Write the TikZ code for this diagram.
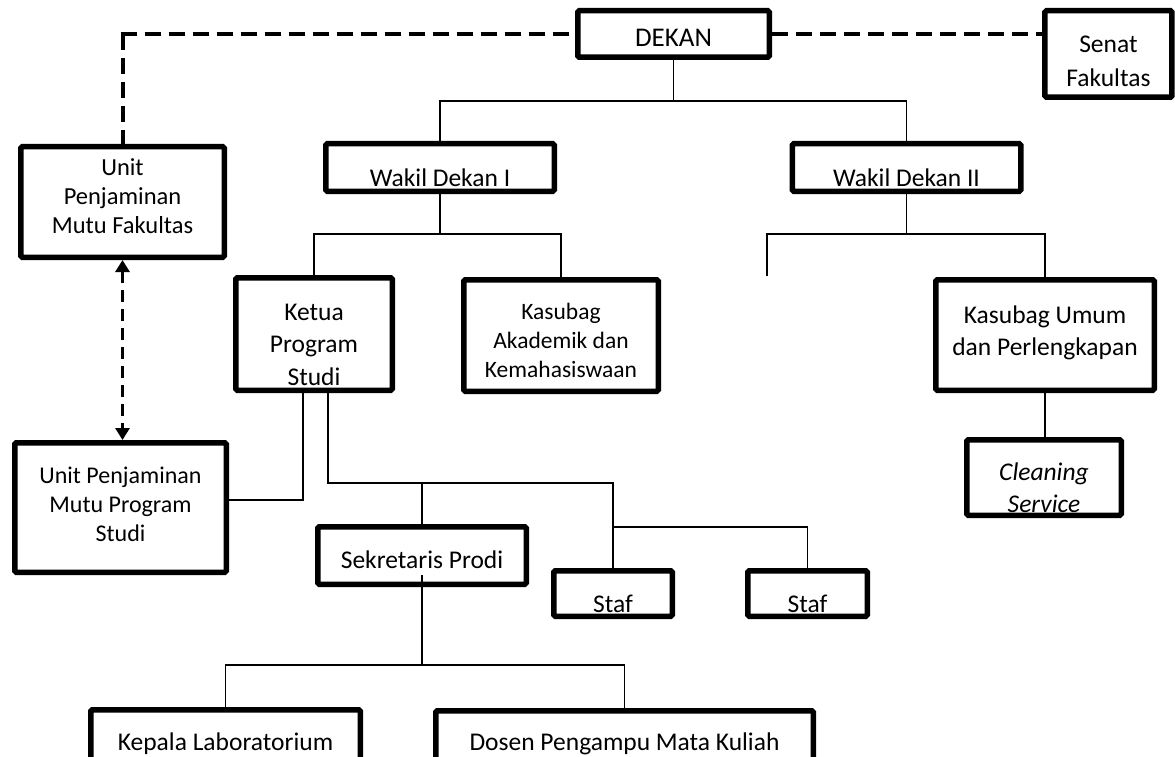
\documentclass[tikz,border=0pt]{standalone}
\usepackage{fontspec}
\setmainfont{Carlito}
\usetikzlibrary{arrows.meta,calc}
\begin{document}
\begin{tikzpicture}[x=1pt,y=-1pt,
  box/.style={draw, line width=5.5pt, rounded corners=1.5pt, inner sep=0pt},
  lbl/.style={align=center, inner sep=0pt, font=\fontsize{25.5}{31}\selectfont},
  one/.style={lbl, anchor=base},
  conn/.style={line width=1.4pt},
  dsh/.style={line width=4pt, dash pattern=on 16pt off 8pt},
  darrow/.style={line width=3.5pt, dash pattern=on 12pt off 7pt,
    {Triangle[length=12pt,width=14pt]}-{Triangle[length=12pt,width=14pt]}}]
\clip (0,0) rectangle (1175,757);
\fill[white] (0,0) rectangle (1175,757);

% boxes
\node[box, minimum width=191.5pt, minimum height=46.5pt] (dekan) at (673.5,34) {};
\node[box, minimum width=127pt, minimum height=86.5pt] (senat) at (1108.4,54) {};
\node[box, minimum width=228.5pt, minimum height=47.5pt] (wd1) at (440,167.5) {};
\node[box, minimum width=228.5pt, minimum height=47.5pt] (wd2) at (906.5,167.5) {};
\node[box, minimum width=203.5pt, minimum height=110.5pt] (upmf) at (122.5,202) {};
\node[box, minimum width=156.5pt, minimum height=112.5pt] (ketua) at (314,334) {};
\node[box, minimum width=194.5pt, minimum height=111.5pt] (kak) at (561,335.5) {};
\node[box, minimum width=218.5pt, minimum height=110.5pt] (kum) at (1045,335) {};
\node[box, minimum width=154.5pt, minimum height=75.5pt] (cs) at (1044,477.5) {};
\node[box, minimum width=211.5pt, minimum height=129.5pt] (upmps) at (120.5,507.5) {};
\node[box, minimum width=208.5pt, minimum height=57.5pt] (sek) at (422,555.5) {};
\node[box, minimum width=118.5pt, minimum height=45.5pt] (staf1) at (613,593.5) {};
\node[box, minimum width=119.5pt, minimum height=45.5pt] (staf2) at (807.5,593.5) {};
\node[box, minimum width=269.5pt, minimum height=80pt] (kepala) at (225.5,749.75) {};
\node[box, minimum width=377.5pt, minimum height=80pt] (dosen) at (624.5,750.75) {};

% texts
\node[one, font=\fontsize{27}{31}\selectfont] (tdekan) at (673.5,47) {DEKAN};
\node[lbl, font=\fontsize{25.5}{34}\selectfont] (tsenat) at (1108.4,63.2) {\strut Senat\\\strut Fakultas};
\node[one] (twd1) at (440,186) {Wakil Dekan I};
\node[one] (twd2) at (906.5,186) {Wakil Dekan II};
\node[lbl, font=\fontsize{24.5}{29}\selectfont] (tupmf) at (122.5,198.2) {\strut Unit\\\strut Penjaminan\\\strut Mutu Fakultas};
\node[lbl, font=\fontsize{25.5}{32.5}\selectfont] (tketua) at (314,346) {\strut Ketua\\\strut Program\\\strut Studi};
\node[lbl, font=\fontsize{23.5}{29}\selectfont] (tkak) at (561,342.2) {\strut Kasubag\\\strut Akademik dan\\\strut Kemahasiswaan};
\node[lbl, font=\fontsize{25.5}{32}\selectfont] (tkum) at (1045,332.6) {\strut Kasubag Umum\\\strut dan Perlengkapan};
\node[lbl, font=\fontsize{25.5}{32}\selectfont\itshape] (tcs) at (1044,489.6) {\strut Cleaning\\\strut Service};
\node[lbl, font=\fontsize{24}{29}\selectfont] (tupmps) at (120.5,506.2) {\strut Unit Penjaminan\\\strut Mutu Program\\\strut Studi};
\node[one] (tsek) at (422,568) {Sekretaris Prodi};
\node[one] (tstaf1) at (613,612) {Staf};
\node[one] (tstaf2) at (807.5,612) {Staf};
\node[one] (tkep) at (225.5,750) {Kepala Laboratorium};
\node[one] (tdos) at (624.5,750) {Dosen Pengampu Mata Kuliah};

% dashed links
\coordinate (c1) at (dekan.west -| upmf.north);
\draw[dsh] ($(c1)+(-2,0)$) -- (dekan.west);
\draw[dsh] (c1) -- (upmf.north);
\draw[dsh] (dekan.east) -- (dekan.east -| senat.west);
\draw[darrow] (upmf.south) -- (upmf.south |- upmps.north);

% tree
\coordinate (b1) at (673.5,101);
\draw[conn] (dekan.south) -- (b1);
\draw[conn] (wd1.north) |- (b1) -| (wd2.north);
\coordinate (b2) at (440,234);
\draw[conn] (wd1.south) -- (b2);
\draw[conn] (ketua.north) |- (b2) -| (kak.north);
\coordinate (b3) at (906.5,234);
\coordinate (dang) at (767,276);
\draw[conn] (wd2.south) -- (b3);
\draw[conn] (dang) |- (b3) -| (kum.north);
\draw[conn] (kum.south) -- (kum.south |- cs.north);

\coordinate (kl) at ($(ketua.south)+(-11,0)$);
\coordinate (kr) at ($(ketua.south)+(14,0)$);
\coordinate (b4) at ($(staf1.north)+(0,-85)$);
\coordinate (b5) at ($(staf1.north)+(0,-41)$);
\coordinate (b6) at ($(sek.south)+(0,78)$);
\draw[conn] (kl) |- ($(upmps.east)+(0,-7.5)$);
\draw[conn] (kr) |- (b4) -- (staf1.north);
\draw[conn] (sek.north) -- (sek.north |- b4);
\draw[conn] (b5) -| (staf2.north);
\draw[conn] ($(sek.south)+(0,-12)$) -- (b6);
\draw[conn] (kepala.north) |- (b6) -| (dosen.north);
\end{tikzpicture}
\end{document}
